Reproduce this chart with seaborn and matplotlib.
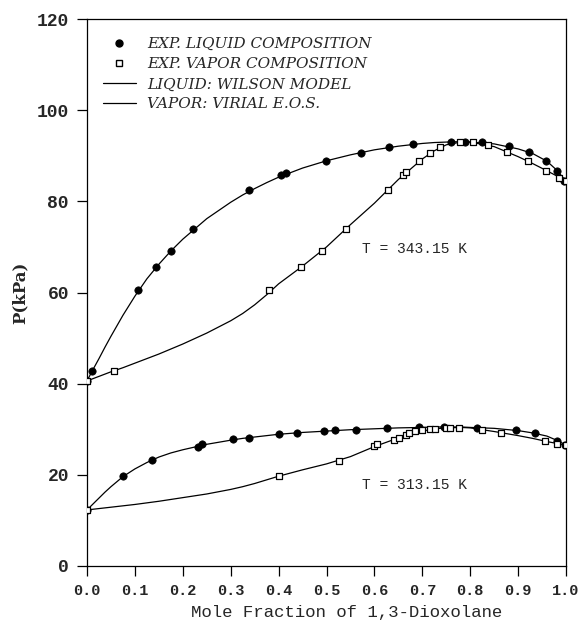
import numpy as np
import pandas as pd
import matplotlib
matplotlib.use("Agg")
import matplotlib.pyplot as plt
import seaborn as sns
from matplotlib.lines import Line2D

# ---------------- data ----------------
# T = 343.15 K, experimental liquid composition (x1, P kPa)
liq343_x = [0.000, 0.011, 0.106, 0.145, 0.175, 0.222, 0.339, 0.405, 0.415, 0.498,
            0.571, 0.631, 0.680, 0.760, 0.790, 0.825, 0.880, 0.923, 0.958, 0.981, 0.996]
liq343_p = [40.6, 42.8, 60.5, 65.6, 69.0, 74.0, 82.4, 85.8, 86.3, 88.9,
            90.7, 91.9, 92.6, 93.0, 93.0, 93.0, 92.2, 90.8, 88.9, 86.7, 84.5]
# T = 343.15 K, experimental vapor composition
vap343_x = [0.000, 0.056, 0.380, 0.446, 0.490, 0.540, 0.628, 0.660, 0.665, 0.694,
            0.716, 0.737, 0.779, 0.806, 0.837, 0.876, 0.920, 0.958, 0.985, 1.000]
vap343_p = [40.6, 42.8, 60.6, 65.5, 69.1, 73.9, 82.4, 85.8, 86.4, 88.9,
            90.7, 91.9, 93.0, 93.0, 92.4, 90.8, 88.8, 86.7, 85.1, 84.4]
# T = 313.15 K, experimental liquid composition
liq313_x = [0.000, 0.075, 0.135, 0.231, 0.241, 0.305, 0.339, 0.400, 0.438, 0.495,
            0.518, 0.562, 0.627, 0.694, 0.745, 0.815, 0.895, 0.935, 0.982, 0.998]
liq313_p = [12.3, 19.7, 23.2, 26.2, 26.7, 27.9, 28.1, 29.0, 29.2, 29.6,
            29.8, 29.9, 30.2, 30.5, 30.4, 30.3, 29.9, 29.2, 27.4, 26.5]
# T = 313.15 K, experimental vapor composition
vap313_x = [0.000, 0.401, 0.526, 0.600, 0.606, 0.641, 0.652, 0.666, 0.673, 0.685,
            0.699, 0.716, 0.727, 0.749, 0.758, 0.777, 0.825, 0.865, 0.956, 0.981, 1.000]
vap313_p = [12.3, 19.8, 23.1, 26.3, 26.8, 27.6, 28.1, 28.8, 29.2, 29.6,
            29.8, 30.0, 30.1, 30.3, 30.3, 30.3, 29.8, 29.2, 27.4, 26.7, 26.5]

# model curves
curve_x = [0.00, 0.0125, 0.025, 0.0375, 0.05, 0.075, 0.10, 0.125, 0.15, 0.175, 0.20,
           0.25, 0.30, 0.325, 0.35, 0.375, 0.40, 0.45, 0.50, 0.55, 0.60, 0.65, 0.70,
           0.725, 0.75, 0.78, 0.80, 0.85, 0.90, 0.93, 0.96, 0.98, 1.00]
wilson343 = [40.6, 43.1, 45.5, 48.0, 50.4, 55.0, 59.2, 63.0, 66.2, 69.1, 71.7,
             76.2, 79.8, 81.4, 82.8, 84.1, 85.3, 87.3, 88.9, 90.2, 91.3, 92.1, 92.7,
             92.9, 93.0, 93.1, 93.0, 92.6, 91.5, 90.5, 88.8, 86.9, 84.4]
virial343 = [40.6, 41.1, 41.6, 42.1, 42.6, 43.5, 44.5, 45.5, 46.5, 47.6, 48.7,
             51.1, 53.8, 55.4, 57.3, 59.5, 61.9, 65.8, 70.0, 74.9, 79.6, 84.8, 89.3,
             91.1, 92.4, 93.0, 93.0, 92.0, 89.8, 88.3, 86.7, 85.6, 84.4]
wilson313 = [12.3, 13.6, 14.9, 16.2, 17.4, 19.6, 21.3, 22.7, 23.9, 24.8, 25.5,
             26.7, 27.6, 28.0, 28.3, 28.6, 28.9, 29.3, 29.6, 29.9, 30.1, 30.3, 30.4,
             30.5, 30.5, 30.5, 30.4, 30.2, 29.7, 29.2, 28.5, 27.6, 26.5]
virial313 = [12.3, 12.45, 12.6, 12.75, 12.9, 13.2, 13.5, 13.85, 14.2, 14.6, 15.0,
             15.8, 16.8, 17.4, 18.1, 18.9, 19.7, 21.1, 22.4, 24.0, 26.2, 28.1, 29.6,
             30.1, 30.3, 30.4, 30.3, 29.5, 28.6, 28.0, 27.3, 26.9, 26.5]

x_ticks = [0.0, 0.1, 0.2, 0.3, 0.4, 0.5, 0.6, 0.7, 0.8, 0.9, 1.0]
y_ticks = [0, 20, 40, 60, 80, 100, 120]
legend_labels = ["EXP. LIQUID COMPOSITION", "EXP. VAPOR COMPOSITION",
                 "LIQUID: WILSON MODEL", "VAPOR: VIRIAL E.O.S."]
annotations = [("T = 343.15 K", 0.575, 69.5), ("T = 313.15 K", 0.575, 17.8)]
x_label = "Mole Fraction of 1,3-Dioxolane"
y_label = "P(kPa)"

# ---------------- figure ----------------
sns.set_theme(style="ticks")
plt.rcParams["font.family"] = ["DejaVu Serif"]
mono = "Liberation Mono"

fig = plt.figure(figsize=(5.8, 6.25), dpi=100)
ax = fig.add_axes([0.150, 0.0944, 0.826, 0.8752])

lw = 0.9
for cy in (wilson343, virial343, wilson313, virial313):
    sns.lineplot(x=curve_x, y=cy, ax=ax, color="black", linewidth=lw,
                 sort=False, estimator=None)

for xs, ps in ((liq343_x, liq343_p), (liq313_x, liq313_p)):
    sns.scatterplot(x=xs, y=ps, ax=ax, marker="o", s=28, color="black",
                    edgecolor="black", linewidth=0.5, zorder=4)
for xs, ps in ((vap343_x, vap343_p), (vap313_x, vap313_p)):
    sns.scatterplot(x=xs, y=ps, ax=ax, marker="s", s=22, facecolor="white",
                    edgecolor="black", linewidth=0.9, zorder=5)

ax.set_xlim(0, 1.0)
ax.set_ylim(0, 120)
ax.set_xticks(x_ticks)
ax.set_xticklabels([f"{v:.1f}" for v in x_ticks], family=mono, fontsize=11,
                   fontweight="bold")
ax.set_yticks(y_ticks)
ax.set_yticklabels([str(v) for v in y_ticks], family=mono, fontsize=13,
                   fontweight="bold")
ax.tick_params(axis="x", direction="out", length=7, width=0.9, color="black", pad=6)
ax.tick_params(axis="y", direction="out", length=7, width=0.9, color="black", pad=6)
for s in ax.spines.values():
    s.set_visible(True)
    s.set_color("black")
    s.set_linewidth(0.9)

ax.set_xlabel(x_label, family=mono, fontsize=12.5, labelpad=5, x=0.542)
ax.set_ylabel(y_label, fontsize=12, fontweight="bold", labelpad=6)

for txt, tx, ty in annotations:
    ax.text(tx, ty, txt, family=mono, fontsize=10.5, ha="left", va="center")

handles = [
    Line2D([], [], marker="o", linestyle="none", color="black", markersize=5),
    Line2D([], [], marker="s", linestyle="none", markerfacecolor="white",
           markeredgecolor="black", markersize=4.5),
    Line2D([], [], color="black", linewidth=lw),
    Line2D([], [], color="black", linewidth=lw),
]
leg = ax.legend(handles, legend_labels, loc="upper left", bbox_to_anchor=(0.02, 0.978),
                frameon=False, prop={"family": "DejaVu Serif", "style": "italic", "size": 11},
                handlelength=2.2, labelspacing=0.4, handletextpad=0.7, borderaxespad=0)

fig.savefig("out.png", dpi=100)
